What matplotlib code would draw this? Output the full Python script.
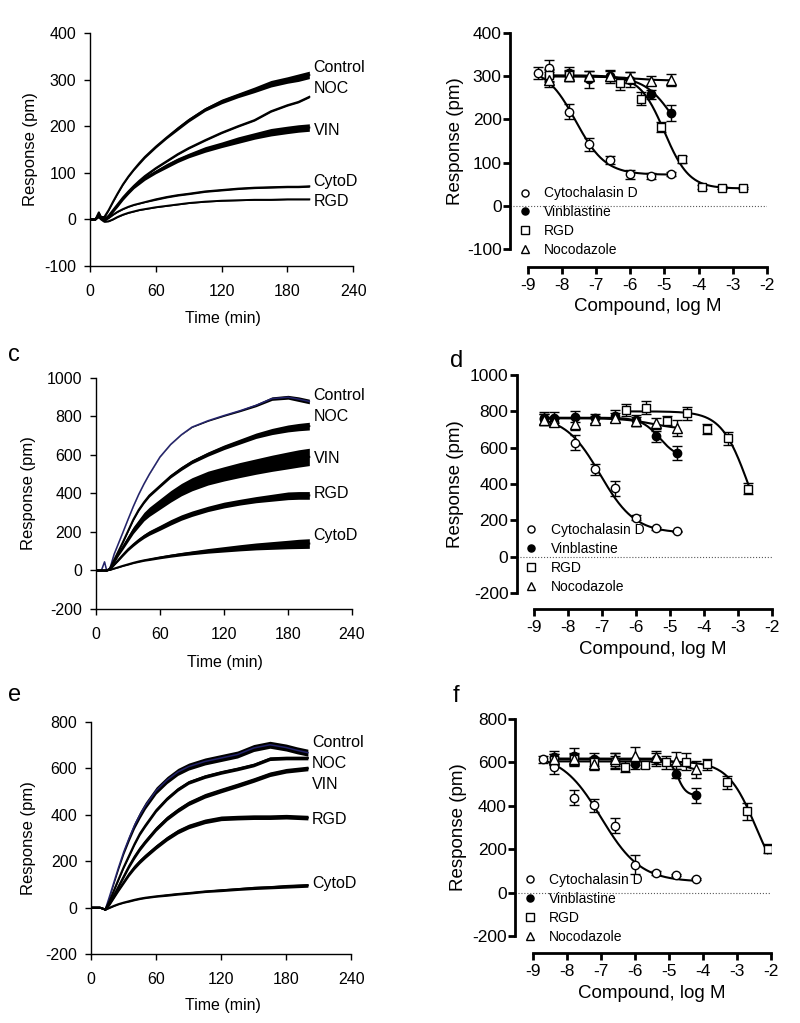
import numpy as np
import matplotlib.pyplot as plt

plt.rcParams['font.family'] = ['Liberation Sans', 'DejaVu Sans']
plt.rcParams['axes.unicode_minus'] = False

# --- time courses (panels a, c, e): mean and half band width, pm ---
t_min = [0, 5, 8, 10, 13, 17, 21, 25, 30, 35, 40, 45, 50, 60, 70, 80, 90, 105, 120, 135,
         150, 165, 180, 190, 200]
trace_names = ["Control", "NOC", "VIN", "CytoD", "RGD"]

a_control = [0, 0, 15, 5, 5, 20, 38, 55, 75, 92, 107, 121, 134, 156, 176, 195, 213, 236, 253, 266,
             278, 291, 299, 304, 310]
a_control_sd = [1, 1, 3, 3, 3, 2, 2, 2, 2, 2, 2, 3, 3, 3, 3, 4, 4, 4, 5, 5, 6, 7, 7, 8, 8]
a_noc = [0, 0, 10, 5, 0, 8, 20, 32, 47, 60, 72, 83, 93, 110, 125, 140, 153, 170, 186, 200,
         213, 232, 245, 252, 263]
a_noc_sd = [1] * 5 + [2] * 20
a_vin = [0, 0, 10, 5, 0, 6, 17, 29, 44, 57, 69, 79, 88, 102, 115, 127, 137, 150, 160, 170,
         179, 187, 192, 195, 197]
a_vin_sd = [1, 1, 2, 2, 2, 2, 2, 3, 3, 3, 3, 4, 4, 4, 5, 5, 5, 6, 6, 7, 7, 8, 8, 8, 8]
a_cytod = [0, 0, 10, 3, -3, 3, 10, 16, 22, 27, 31, 34, 37, 43, 48, 52, 55, 60, 63, 66,
           68, 69, 70, 70, 71]
a_cytod_sd = [1] * 13 + [2] * 12
a_rgd = [0, 0, 5, 0, -5, -4, 0, 5, 10, 14, 17, 20, 22, 26, 29, 32, 35, 38, 40, 41,
         42, 42, 43, 43, 43]
a_rgd_sd = [1] * 25

c_control = [0, 0, 45, 0, 10, 85, 140, 195, 265, 333, 395, 450, 500, 590, 655, 705, 745, 778, 805, 830,
             858, 893, 900, 890, 878]
c_control_sd = [1] * 16 + [2, 3, 4, 5, 7, 9, 10, 12, 12]
c_noc = [0, 0, 0, 0, 10, 55, 100, 145, 205, 265, 315, 355, 390, 440, 490, 530, 565, 605, 640, 670,
         700, 722, 738, 745, 750]
c_noc_sd = [1, 1, 1, 2, 3, 4, 5, 5, 6, 6, 7, 7, 8, 8, 9, 10, 10, 11, 12, 13, 14, 16, 18, 19, 20]
c_vin = [0, 0, 0, 0, 8, 45, 85, 120, 165, 210, 245, 280, 305, 345, 385, 420, 448, 480, 502, 522,
         540, 557, 572, 582, 590]
c_vin_sd = [1, 1, 1, 2, 3, 6, 9, 12, 15, 18, 20, 22, 24, 27, 30, 32, 34, 36, 37, 39, 40, 42, 44, 45, 45]
c_rgd = [0, 0, 0, 0, 5, 30, 55, 80, 110, 135, 158, 178, 195, 222, 250, 275, 295, 320, 340, 355,
         368, 378, 388, 390, 390]
c_rgd_sd = [1, 1, 1, 2, 3, 4, 6, 7, 8, 9, 10, 11, 12, 13, 14, 14, 14, 14, 15, 15, 16, 18, 20, 20, 20]
c_cytod = [0, 0, 0, 0, 3, 10, 17, 24, 32, 40, 47, 53, 58, 68, 77, 85, 92, 102, 110, 118,
           125, 130, 135, 138, 140]
c_cytod_sd = [1, 1, 1, 1, 2, 2, 3, 3, 4, 4, 5, 5, 6, 7, 8, 9, 10, 12, 14, 16, 18, 20, 22, 24, 25]

e_control = [0, 0, 0, -3, -8, 50, 110, 170, 240, 300, 355, 400, 440, 505, 550, 585, 608, 630, 645, 660,
             688, 702, 690, 678, 668]
e_control_sd = [2, 2, 2, 3, 4, 5, 7, 9, 11, 13, 14] + [15] * 14
e_noc = [0, 0, 0, -3, -8, 30, 75, 120, 175, 225, 275, 320, 355, 420, 470, 510, 540, 565, 583, 598,
         615, 642, 645, 645, 645]
e_noc_sd = [2, 2, 2, 3, 4, 5, 5, 6, 6, 7, 7] + [8] * 14
e_vin = [0, 0, 0, -3, -8, 20, 55, 90, 135, 180, 220, 255, 285, 340, 385, 420, 450, 482, 505, 527,
         550, 575, 590, 595, 600]
e_vin_sd = [2, 2, 2, 3, 4, 5, 6, 7, 8, 9] + [10] * 15
e_rgd = [0, 0, 0, -3, -8, 15, 45, 75, 110, 145, 175, 200, 222, 262, 298, 328, 350, 372, 385, 388,
         390, 390, 392, 390, 388]
e_rgd_sd = [2, 2, 2, 3, 4, 5, 6, 7, 8, 9] + [10] * 15
e_cytod = [0, 0, 0, -3, -8, 0, 8, 15, 22, 28, 34, 39, 43, 49, 54, 59, 63, 70, 75, 80,
           85, 88, 92, 94, 96]
e_cytod_sd = [2, 2, 2, 2, 3, 3, 3, 3, 3, 4, 4, 4, 4, 4, 5, 5, 5, 5, 6, 6, 7, 7, 8, 8, 8]

# --- dose responses (panels b, d, f): log M, mean, SEM ---
compounds = ["Cytochalasin D", "Vinblastine", "RGD", "Nocodazole"]

b_cyto_x = [-8.7, -8.4, -7.8, -7.2, -6.6, -6.0, -5.4, -4.8]
b_cyto_y = [307, 318, 218, 142, 106, 73, 68, 74]
b_cyto_e = [14, 20, 17, 14, 10, 10, 7, 5]
b_vin_x = [-8.4, -7.8, -7.2, -6.6, -6.0, -5.4, -4.8]
b_vin_y = [302, 308, 293, 300, 292, 258, 215]
b_vin_e = [15, 14, 20, 15, 18, 10, 18]
b_rgd_x = [-8.4, -7.8, -6.3, -5.7, -5.1, -4.5, -3.9, -3.3, -2.7]
b_rgd_y = [302, 302, 284, 248, 182, 108, 44, 42, 41]
b_rgd_e = [12, 12, 15, 15, 12, 8, 4, 3, 3]
b_noc_x = [-8.4, -7.8, -7.2, -6.6, -6.0, -5.4, -4.8]
b_noc_y = [292, 300, 300, 300, 297, 290, 292]
b_noc_e = [18, 12, 12, 12, 12, 10, 14]
# fitted curves: top, bottom, logIC50, hill
b_fits = [(320, 72, -7.6, 1.0), (300, 100, -4.7, 1.0), (302, 40, -5.0, 1.2), (300, 290, -6.0, 1.0)]

d_cyto_x = [-8.7, -8.4, -7.8, -7.2, -6.6, -6.0, -5.4, -4.8]
d_cyto_y = [758, 743, 628, 481, 376, 215, 156, 139]
d_cyto_e = [30, 25, 40, 30, 40, 15, 8, 5]
d_vin_x = [-8.7, -8.4, -7.8, -7.2, -6.6, -6.0, -5.4, -4.8]
d_vin_y = [762, 765, 770, 762, 775, 750, 664, 572]
d_vin_e = [35, 30, 30, 25, 35, 30, 30, 40]
d_rgd_x = [-6.3, -5.7, -5.1, -4.5, -3.9, -3.3, -2.7]
d_rgd_y = [807, 820, 749, 789, 703, 651, 374]
d_rgd_e = [35, 35, 25, 35, 30, 35, 30]
d_noc_x = [-8.7, -8.4, -7.8, -7.2, -6.6, -6.0, -5.4, -4.8]
d_noc_y = [755, 740, 730, 755, 765, 745, 734, 710]
d_noc_e = [30, 20, 35, 20, 25, 25, 30, 45]
d_fits = [(775, 130, -7.05, 0.85), (765, 540, -5.3, 1.6), (800, 0, -2.7, 1.1), (762, 700, -5.5, 1.0)]

f_cyto_x = [-8.7, -8.4, -7.8, -7.2, -6.6, -6.0, -5.4, -4.8, -4.2]
f_cyto_y = [614, 577, 438, 402, 309, 129, 91, 82, 62]
f_cyto_e = [15, 30, 35, 30, 35, 45, 8, 5, 5]
f_vin_x = [-8.4, -7.8, -7.2, -6.6, -6.0, -5.4, -4.8, -4.2]
f_vin_y = [625, 628, 615, 608, 595, 615, 549, 448]
f_vin_e = [30, 40, 30, 35, 25, 30, 20, 35]
f_rgd_x = [-8.4, -7.8, -7.2, -6.6, -6.3, -5.7, -5.1, -4.5, -3.9, -3.3, -2.7, -2.1]
f_rgd_y = [612, 615, 600, 600, 580, 590, 600, 603, 592, 509, 374, 203]
f_rgd_e = [25, 25, 25, 30, 25, 15, 30, 40, 25, 30, 40, 20]
f_noc_x = [-8.4, -7.8, -7.2, -6.6, -6.0, -5.4, -4.8, -4.2]
f_noc_y = [615, 615, 591, 615, 629, 625, 608, 568]
f_noc_e = [25, 30, 25, 30, 40, 30, 40, 40]
f_fits = [(640, 50, -7.0, 0.75), (618, 448, -4.75, 3.5), (605, 0, -2.45, 1.05), (615, 560, -4.6, 2.0)]


def logistic(x, top, bottom, logic50, hill):
    return bottom + (top - bottom) / (1 + 10 ** ((x - logic50) * hill))


def time_panel(ax, traces, label_ys, ylim, ystep, navy_control=False):
    t = np.array(t_min)
    for i, (mean, sd) in enumerate(traces):
        mean = np.array(mean)
        sd = np.array(sd)
        ax.fill_between(t, mean - sd, mean + sd, color="black", lw=0)
        col = "#22226a" if (navy_control and i == 0) else "black"
        ax.plot(t, mean, color=col, lw=1.1 if col != "black" else 1.4)
    for name, y in zip(label_ys[0], label_ys[1]):
        ax.text(204, y, name, fontsize=11.5, va="center", ha="left")
    ax.set_xlim(0, 240)
    ax.set_ylim(*ylim)
    ax.set_xticks(range(0, 241, 60))
    ax.set_yticks(range(ylim[0], ylim[1] + 1, ystep))
    ax.spines[["top", "right"]].set_visible(False)
    ax.spines[["left", "bottom"]].set_linewidth(1)
    ax.tick_params(direction="out", length=4, width=1, labelsize=11.5)
    ax.tick_params(axis="x", pad=9)
    ax.tick_params(axis="y", pad=6)
    ax.set_xlabel("Time (min)", fontsize=11.5)
    ax.set_ylabel("Response (pm)", fontsize=12)


def dose_panel(ax, series, fits, ylim, ystep, xleft, drop, leg_y):
    markers = [("o", "white"), ("o", "black"), ("s", "white"), ("^", "white")]
    for (x, y, e), fit, (m, fc), name in zip(series, fits, markers, compounds):
        xs = np.linspace(min(x), max(x), 200)
        ax.plot(xs, logistic(xs, *fit), color="black", lw=1.5, zorder=2)
        ax.errorbar(x, y, yerr=e, fmt="none", ecolor="black", elinewidth=1,
                    capsize=3.5, capthick=1, zorder=3)
        ax.plot(x, y, ls="none", marker=m, ms=6 if m != "^" else 6.5,
                mfc=fc, mec="black", mew=1, zorder=4, label=name)
    ax.axhline(0, color="0.35", lw=0.8, ls=":", zorder=1)
    ax.set_xlim(xleft, -2)
    ax.set_ylim(*ylim)
    ax.set_xticks(range(-9, -1))
    ax.set_yticks(range(ylim[0], ylim[1] + 1, ystep))
    ax.spines[["top", "right"]].set_visible(False)
    ax.spines[["left", "bottom"]].set_linewidth(2)
    ax.spines["bottom"].set_position(("outward", drop))
    ax.spines["bottom"].set_bounds(-9, -2)
    ax.tick_params(direction="out", length=5, width=2, labelsize=12.5)
    ax.tick_params(axis="y", pad=1)
    ax.tick_params(axis="x", pad=3)
    ax.set_xlabel("Compound, log M", fontsize=13.5)
    ax.set_ylabel("Response (pm)", fontsize=13.5)
    ax.legend(loc="upper left", bbox_to_anchor=(0.03, leg_y), frameon=False,
              fontsize=10, handlelength=1.0, handletextpad=0.9,
              labelspacing=0.35, borderpad=0, borderaxespad=0, markerscale=0.85)


fig = plt.figure(figsize=(8, 10.23), dpi=100)

# panel a
ax_a = fig.add_axes([0.1125, 0.740, 0.329, 0.2278])
time_panel(ax_a, [(a_control, a_control_sd), (a_noc, a_noc_sd), (a_vin, a_vin_sd),
                  (a_cytod, a_cytod_sd), (a_rgd, a_rgd_sd)],
           (trace_names, [326, 280, 191, 81, 38]), (-100, 400), 100)
ax_a.yaxis.set_label_coords(-0.198, 0.5)
ax_a.xaxis.set_label_coords(0.505, -0.193)

# panel b
ax_b = fig.add_axes([0.6375, 0.7566, 0.321, 0.2111])
dose_panel(ax_b, [(b_cyto_x, b_cyto_y, b_cyto_e), (b_vin_x, b_vin_y, b_vin_e),
                  (b_rgd_x, b_rgd_y, b_rgd_e), (b_noc_x, b_noc_y, b_noc_e)],
           b_fits, (-100, 400), 100, -9.53, 13, 0.29)
ax_b.yaxis.set_label_coords(-0.179, 0.5)
ax_b.xaxis.set_label_coords(0.535, -0.227)

# panel c
ax_c = fig.add_axes([0.12, 0.4047, 0.32, 0.2258])
time_panel(ax_c, [(c_control, c_control_sd), (c_noc, c_noc_sd), (c_vin, c_vin_sd),
                  (c_rgd, c_rgd_sd), (c_cytod, c_cytod_sd)],
           (["Control", "NOC", "VIN", "RGD", "CytoD"], [910, 798, 583, 398, 181]),
           (-200, 1000), 200, navy_control=True)
ax_c.yaxis.set_label_coords(-0.234, 0.5)
ax_c.xaxis.set_label_coords(0.505, -0.199)

# panel d
ax_d = fig.add_axes([0.646, 0.4203, 0.319, 0.2131])
dose_panel(ax_d, [(d_cyto_x, d_cyto_y, d_cyto_e), (d_vin_x, d_vin_y, d_vin_e),
                  (d_rgd_x, d_rgd_y, d_rgd_e), (d_noc_x, d_noc_y, d_noc_e)],
           d_fits, (-200, 1000), 200, -9.5, 11.5, 0.32)
ax_d.yaxis.set_label_coords(-0.208, 0.5)
ax_d.xaxis.set_label_coords(0.533, -0.22)

# panel e
ax_e = fig.add_axes([0.114, 0.0674, 0.325, 0.2268])
time_panel(ax_e, [(e_control, e_control_sd), (e_noc, e_noc_sd), (e_vin, e_vin_sd),
                  (e_rgd, e_rgd_sd), (e_cytod, e_cytod_sd)],
           (["Control", "NOC", "VIN", "RGD", "CytoD"], [713, 620, 529, 378, 104]),
           (-200, 800), 200, navy_control=True)
ax_e.yaxis.set_label_coords(-0.212, 0.5)
ax_e.xaxis.set_label_coords(0.505, -0.19)

# panel f
ax_f = fig.add_axes([0.644, 0.085, 0.32, 0.2121])
dose_panel(ax_f, [(f_cyto_x, f_cyto_y, f_cyto_e), (f_vin_x, f_vin_y, f_vin_e),
                  (f_rgd_x, f_rgd_y, f_rgd_e), (f_noc_x, f_noc_y, f_noc_e)],
           f_fits, (-200, 800), 200, -9.53, 12.2, 0.29)
ax_f.yaxis.set_label_coords(-0.1875, 0.5)
ax_f.xaxis.set_label_coords(0.535, -0.226)

# panel letters
for x, y, s in [(0.01, 0.653, "c"), (0.5625, 0.647, "d"), (0.01, 0.3206, "e"), (0.566, 0.3196, "f")]:
    fig.text(x, y, s, fontsize=17, va="center", ha="left")

fig.savefig("out.png", dpi=100)
